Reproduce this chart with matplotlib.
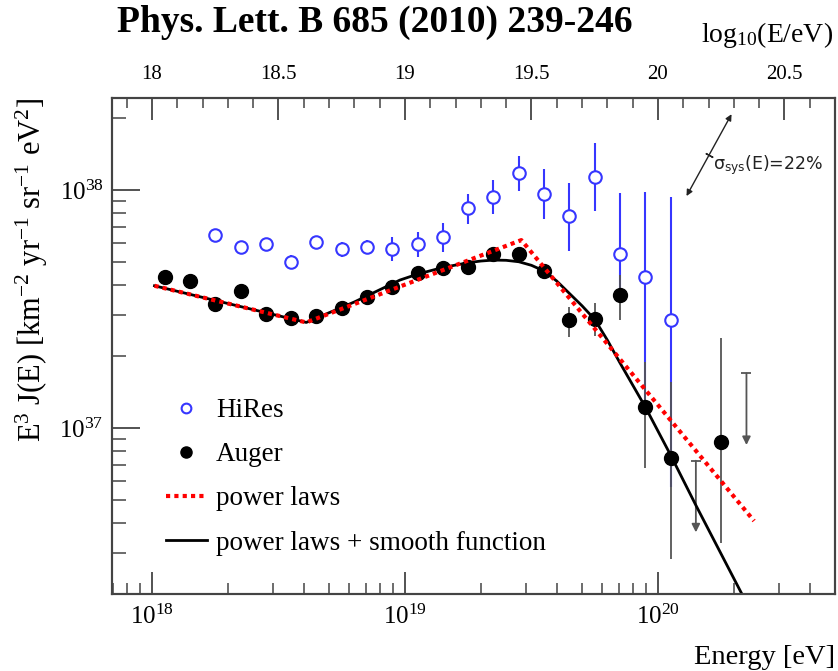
import matplotlib
matplotlib.use('Agg')
import matplotlib.pyplot as plt
from matplotlib.lines import Line2D
from matplotlib.ticker import LogLocator, MultipleLocator, FormatStrFormatter, NullFormatter
import numpy as np

plt.rcParams['font.family'] = ['Liberation Serif', 'DejaVu Serif']
plt.rcParams['mathtext.fontset'] = 'custom'
plt.rcParams['mathtext.rm'] = 'Liberation Serif'
plt.rcParams['mathtext.it'] = 'Liberation Serif:italic'
plt.rcParams['mathtext.bf'] = 'Liberation Serif:bold'

# all values as log10(E/eV) and log10(E^3 J)
auger_lgE = [18.05, 18.15, 18.25, 18.35, 18.45, 18.55, 18.65, 18.75, 18.85, 18.95, 19.05,
             19.15, 19.25, 19.35, 19.45, 19.55, 19.65, 19.75, 19.85, 19.95, 20.05, 20.25]
auger_lgF = [37.636, 37.618, 37.521, 37.574, 37.478, 37.462, 37.473, 37.504, 37.549, 37.594, 37.653,
             37.674, 37.678, 37.731, 37.731, 37.660, 37.454, 37.457, 37.559, 37.087, 36.875, 36.940]
auger_up = [0.012] * 15 + [0.02, 0.056, 0.070, 0.084, 0.192, 0.320, 0.437]
auger_lo = [0.012] * 15 + [0.02, 0.070, 0.070, 0.105, 0.254, 0.427, 0.424]

# Auger upper limits
ul_lgE = [20.15, 20.35]
ul_lgF = [36.863, 37.230]

hires_lgE = [18.25, 18.35, 18.45, 18.55, 18.65, 18.75, 18.85, 18.95, 19.05, 19.15,
             19.25, 19.35, 19.45, 19.55, 19.65, 19.75, 19.85, 19.95, 20.05]
hires_lgF = [37.811, 37.762, 37.772, 37.700, 37.782, 37.751, 37.760, 37.751, 37.773, 37.804,
             37.923, 37.972, 38.073, 37.982, 37.891, 38.053, 37.731, 37.633, 37.454]
hires_up = [0.01, 0.01, 0.01, 0.027, 0.02, 0.033, 0.03, 0.05, 0.052, 0.059,
            0.059, 0.070, 0.070, 0.105, 0.140, 0.143, 0.255, 0.360, 0.516]
hires_lo = [0.01, 0.01, 0.01, 0.027, 0.02, 0.033, 0.03, 0.05, 0.056, 0.063,
            0.066, 0.073, 0.076, 0.105, 0.146, 0.142, 0.193, 0.536, 0.700]

# broken power law (vertices)
pl_lgE = [18.01, 18.61, 19.46, 20.38]
pl_lgF = [37.598, 37.444, 37.790, 36.610]

# power laws + smooth suppression
sm_lgE = [18.01, 18.61, 18.80, 18.98, 19.05, 19.15, 19.25, 19.30, 19.35, 19.40, 19.45, 19.50,
          19.55, 19.60, 19.65, 19.70, 19.75, 19.80, 19.85, 19.95, 20.05, 20.15, 20.25, 20.33]
sm_lgF = [37.598, 37.444, 37.530, 37.622, 37.647, 37.675, 37.695, 37.702, 37.706, 37.705, 37.699, 37.684,
          37.660, 37.618, 37.566, 37.514, 37.457, 37.370, 37.274, 37.089, 36.887, 36.676, 36.471, 36.307]

blue = '#3636ff'
gray = '#444444'

def lin(a):
    return 10.0 ** np.array(a)

fig = plt.figure(figsize=(8.38, 6.71), dpi=100)
ax = fig.add_axes([112/838, 1-594/671, (835-112)/838, (594-98)/671])
ax.set_xscale('log')
ax.set_yscale('log')
ax.set_xlim(10**17.842, 10**20.70)
ax.set_ylim(10**36.303, 10**38.387)

hE, hF = lin(hires_lgE), lin(hires_lgF)
h_err = [hF - lin(np.array(hires_lgF) - hires_lo), lin(np.array(hires_lgF) + hires_up) - hF]
ax.errorbar(hE, hF, yerr=h_err, fmt='o', ms=9, mfc='white', mec=blue, mew=1.5,
            ecolor=blue, elinewidth=1.5, capsize=0, zorder=2)

aE, aF = lin(auger_lgE), lin(auger_lgF)
a_err = [aF - lin(np.array(auger_lgF) - auger_lo), lin(np.array(auger_lgF) + auger_up) - aF]
ax.errorbar(aE, aF, yerr=a_err, fmt='o', ms=10, color='black',
            ecolor='#555555', elinewidth=1.3, capsize=0, zorder=3)

for e, f in zip(lin(ul_lgE), lin(ul_lgF)):
    ax.annotate('', xy=(e, f / 2.0), xytext=(e, f),
                arrowprops=dict(arrowstyle='-|>', color='#555555', lw=1.3,
                                mutation_scale=12, shrinkA=0, shrinkB=0), zorder=3)
    ax.plot([e], [f], marker='_', ms=7, color='#555555', mew=1.3, zorder=3)

ax.plot(lin(sm_lgE), lin(sm_lgF), color='black', lw=2, zorder=4)
ax.plot(lin(pl_lgE), lin(pl_lgF), color='red', lw=3, ls=(0, (1, 1)), zorder=5)

# systematic uncertainty arrow
ax.annotate('', xy=(10**20.291, 10**38.319), xytext=(10**20.113, 10**37.975),
            arrowprops=dict(arrowstyle='<|-|>', color='#222222', lw=1.0,
                            mutation_scale=9, shrinkA=0, shrinkB=0))
ax.plot([10**20.202], [10**38.147], marker=(2, 2, 61), ms=6, color='#222222', mew=1.0)
ax.text(10**20.217, 10**38.105, 'σ$_{\\mathdefault{sys}}$(E)=22%', family='DejaVu Sans',
        fontsize=12.5, ha='left', va='center', color='#222222')

# axes style
for s in ax.spines.values():
    s.set_color(gray)
    s.set_linewidth(1.5)
ax.xaxis.set_major_locator(LogLocator(base=10, numticks=10))
ax.xaxis.set_minor_locator(LogLocator(base=10, subs=np.arange(2, 10), numticks=20))
ax.xaxis.set_minor_formatter(NullFormatter())
ax.yaxis.set_minor_formatter(NullFormatter())
ax.tick_params(axis='x', which='major', direction='in', length=16, width=1.3, color=gray,
               labelsize=18, pad=8)
ax.tick_params(axis='x', which='minor', direction='in', length=8, width=1.1, color=gray)
ax.tick_params(axis='y', which='major', direction='in', length=20, width=1.3, color=gray,
               labelsize=18, pad=6)
ax.tick_params(axis='y', which='minor', direction='in', length=10, width=1.1, color=gray)

ax2 = ax.twiny()
ax2.set_xlim(17.842, 20.70)
ax2.xaxis.set_major_locator(MultipleLocator(0.5))
ax2.xaxis.set_minor_locator(MultipleLocator(0.1))
ax2.xaxis.set_major_formatter(FormatStrFormatter('%g'))
ax2.tick_params(axis='x', which='major', direction='in', length=16, width=1.3, color=gray,
                labelsize=15, pad=10)
ax2.tick_params(axis='x', which='minor', direction='in', length=7, width=1.1, color=gray)
for s in ax2.spines.values():
    s.set_color(gray)
    s.set_linewidth(1.5)

h1 = Line2D([], [], ls='none', marker='o', ms=7, mfc='white', mec=blue, mew=1.5)
h2 = Line2D([], [], ls='none', marker='o', ms=8, color='black')
h3 = Line2D([], [], color='red', lw=3, ls=(0, (1, 1)))
h4 = Line2D([], [], color='black', lw=2)
ax.legend([h1, h2, h3, h4], ['HiRes', 'Auger', 'power laws', 'power laws + smooth function'],
          loc='upper left', bbox_to_anchor=(166/838, 1-398/671), bbox_transform=fig.transFigure,
          frameon=False, fontsize=19.5, handlelength=1.5, handletextpad=0.35,
          labelspacing=0.71, borderpad=0, borderaxespad=0)

fig.text(32/838, 1-98/671, 'E$^{3}$ J(E) [km$^{-2}$ yr$^{-1}$ sr$^{-1}$ eV$^{2}$]',
         rotation=90, ha='center', va='top', fontsize=22)
fig.text(835/838, 7/671, 'Energy [eV]', ha='right', va='baseline', fontsize=20.5)
fig.text(833/838, 1-35/671, 'log$_{10}$(E/eV)', ha='right', va='center', fontsize=20)
fig.text(375/838, 1-22/671, 'Phys. Lett. B 685 (2010) 239-246', ha='center', va='center',
         fontsize=27, fontweight='bold')

fig.savefig('out.png', dpi=100)
